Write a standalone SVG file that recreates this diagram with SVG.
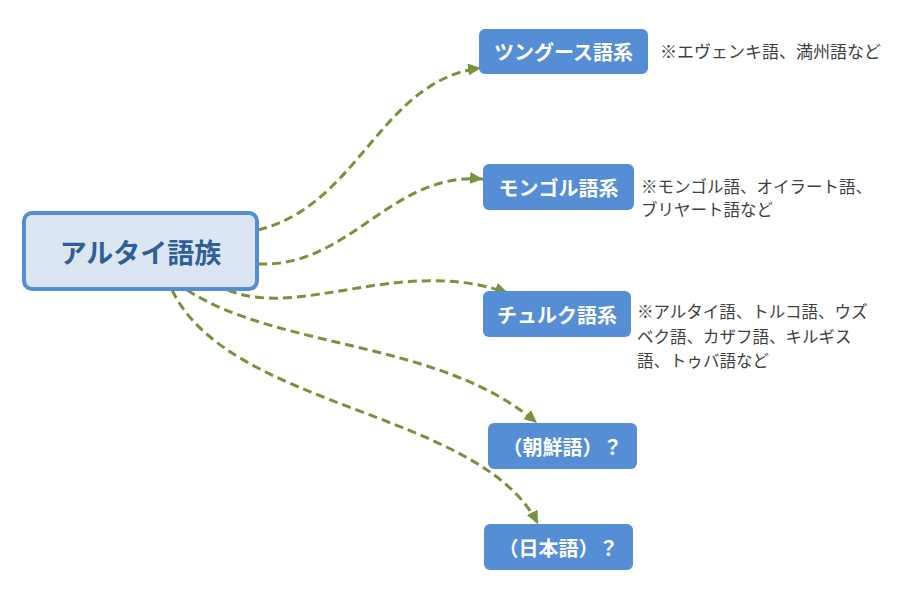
<svg xmlns="http://www.w3.org/2000/svg" width="909" height="597" viewBox="0 0 909 597">
<style>
.conn{fill:none;stroke:#77933c;stroke-width:3;stroke-dasharray:9,5}
.node{fill:#558ed5}
.lbl{font-family:"Noto Sans CJK JP","Noto Sans",sans-serif;font-weight:bold;font-size:20px;fill:#ffffff;text-anchor:middle;dominant-baseline:central}
.note{font-family:"Noto Sans CJK JP","Noto Sans",sans-serif;font-size:16.5px;fill:#404040}
</style>
<defs>
<marker id="arr" markerUnits="userSpaceOnUse" markerWidth="14" markerHeight="12" refX="13" refY="6" orient="auto">
<path d="M0,0 L13,6 L0,12 Z" fill="#77933c"/>
</marker>
</defs>
<rect width="909" height="597" fill="#ffffff"/>
<g id="connectors">
<path class="conn" marker-end="url(#arr)" d="M258,230 C360,205 380,80 481,68"/>
<path class="conn" marker-end="url(#arr)" d="M258,264 C350,268 390,172 483,179"/>
<path class="conn" marker-end="url(#arr)" d="M228,290 C300,320 400,255 508,293"/>
<path class="conn" marker-end="url(#arr)" d="M187,290 C280,350 440,340 537,423"/>
<path class="conn" marker-end="url(#arr)" d="M172,290 C230,410 480,410 538,524"/>
</g>
<g id="altaic">
<rect x="24" y="213" width="233" height="76" rx="8" fill="#dce6f2" stroke="#558ed5" stroke-width="4"/>
<text x="140.5" y="251" style="font-family:'Noto Sans CJK JP','Noto Sans',sans-serif;font-weight:bold;font-size:27px;fill:#2f5f98;text-anchor:middle;dominant-baseline:central">アルタイ語族</text>
</g>
<g id="tungusic">
<rect class="node" x="479" y="29" width="169" height="45" rx="6"/>
<text class="lbl" x="563.5" y="51.5">ツングース語系</text>
<text class="note" x="660" y="58" style="font-size:17px">※エヴェンキ語、満州語など</text>
</g>
<g id="mongolic">
<rect class="node" x="483" y="164" width="151" height="46" rx="6"/>
<text class="lbl" x="558.5" y="187">モンゴル語系</text>
<text class="note" x="641" y="193">※モンゴル語、オイラート語、</text>
<text class="note" x="641" y="216">ブリヤート語など</text>
</g>
<g id="turkic">
<rect class="node" x="483" y="291" width="148" height="46" rx="6"/>
<text class="lbl" x="557" y="314">チュルク語系</text>
<text class="note" x="637" y="318">※アルタイ語、トルコ語、ウズ</text>
<text class="note" x="637" y="343">ベク語、カザフ語、キルギス</text>
<text class="note" x="637" y="367">語、トゥバ語など</text>
</g>
<g id="korean">
<rect class="node" x="488" y="423" width="149" height="46" rx="6"/>
<text class="lbl" x="562.5" y="446">（朝鮮語）？</text>
</g>
<g id="japanese">
<rect class="node" x="484" y="524" width="149" height="46" rx="6"/>
<text class="lbl" x="558.5" y="547">（日本語）？</text>
</g>
</svg>
